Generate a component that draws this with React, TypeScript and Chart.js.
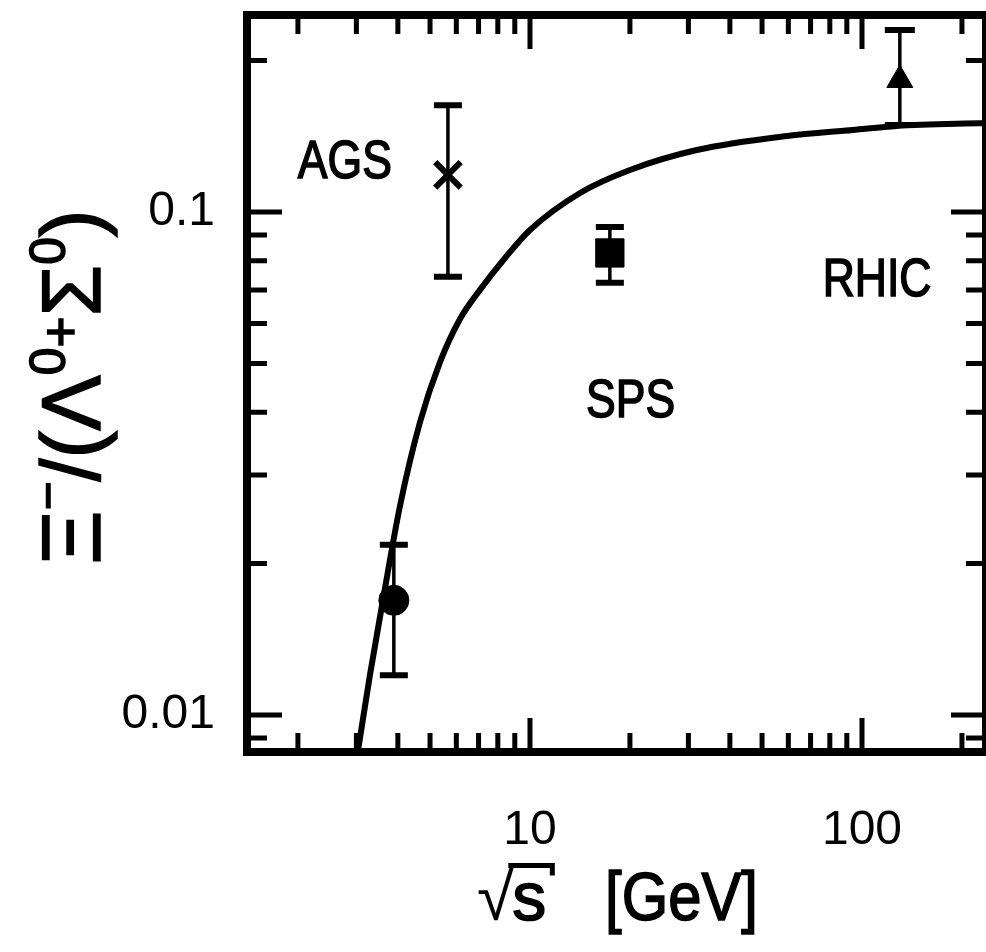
import React, { useEffect, useRef } from "react";
import { Chart, registerables } from "chart.js";

Chart.register(...registerables);

// ---- Data ----
// model curve: sqrt(s) [GeV] vs ratio
const curveX = [3.03, 3.296, 3.607, 4.059, 4.665, 5.357, 6.155, 7.07, 8.41, 10.0, 14.15, 20.0, 31.8, 59.4, 94.0, 127, 236];
const curveY = [0.00844, 0.01201, 0.01693, 0.02603, 0.03824, 0.0503, 0.06127, 0.07, 0.081, 0.0921, 0.1091, 0.1212, 0.1328, 0.1416, 0.1456, 0.1483, 0.1503];

// measured points: AGS (cross), low energy (circle), SPS (square), RHIC (triangle)
const pointNames = ["AGS", "low energy", "SPS", "RHIC"];
const pointX = [5.66, 3.89, 17.4, 130];
const pointY = [0.1185, 0.0169, 0.0829, 0.183];
const errLow = [0.0743, 0.012, 0.0723, 0.149];
const errHigh = [0.163, 0.0218, 0.0934, 0.23];

// text labels
const annotText = ["AGS", "SPS", "RHIC"];
const annotX = [2.77, 20.1, 111];
const annotY = [0.117, 0.0391, 0.0681];

// axes
const xMin = 1.405;
const xMax = 236.3;
const yMin = 0.00844;
const yMax = 0.2464;
const xMajor = [10, 100];
const xMajorLabels = ["10", "100"];
const xMinor = [2, 3, 4, 5, 6, 7, 8, 9, 20, 30, 40, 50, 60, 70, 80, 90, 200];
const yMajor = [0.01, 0.1];
const yMajorLabels = ["0.01", "0.1"];
const yMinor = [0.009, 0.02, 0.03, 0.04, 0.05, 0.06, 0.07, 0.08, 0.09, 0.2];

const FONT = '"Liberation Sans", Arial, sans-serif';

function condensedText(ctx: any, text: string, x: number, y: number, sx: number, align: string, stroke: number) {
  ctx.save();
  ctx.translate(x, y);
  ctx.scale(sx, 1);
  ctx.textAlign = align;
  ctx.fillText(text, 0, 0);
  if (stroke > 0) {
    ctx.lineWidth = stroke;
    ctx.strokeText(text, 0, 0);
  }
  ctx.restore();
}

const drawPlugin = {
  id: "physicsDecor",
  beforeDatasetsDraw(chart: any) {
    const ctx = chart.ctx;
    const xs = chart.scales.x;
    const ys = chart.scales.y;
    ctx.save();
    ctx.strokeStyle = "#000";
    ctx.lineCap = "butt";
    for (let i = 0; i < pointX.length; i++) {
      const px = xs.getPixelForValue(pointX[i]);
      const lo = ys.getPixelForValue(errLow[i]);
      const hi = ys.getPixelForValue(errHigh[i]);
      ctx.lineWidth = 3.5;
      ctx.beginPath();
      ctx.moveTo(px, lo);
      ctx.lineTo(px, hi);
      ctx.stroke();
      ctx.lineWidth = 6;
      const cw = i === 3 ? 15 : 14;
      ctx.beginPath();
      ctx.moveTo(px - cw, lo);
      ctx.lineTo(px + cw, lo);
      ctx.moveTo(px - cw, hi);
      ctx.lineTo(px + cw, hi);
      ctx.stroke();
    }
    ctx.restore();
  },
  afterDatasetsDraw(chart: any) {
    const ctx = chart.ctx;
    const xs = chart.scales.x;
    const ys = chart.scales.y;
    const { left, right, top, bottom } = chart.chartArea;
    ctx.save();
    ctx.strokeStyle = "#000";
    ctx.fillStyle = "#000";
    // frame
    ctx.lineWidth = 8;
    ctx.strokeRect(left, top, right - left, bottom - top);
    // inward ticks
    ctx.lineWidth = 5;
    const xt = (vals: number[], len: number) => {
      for (const v of vals) {
        const p = xs.getPixelForValue(v);
        ctx.beginPath();
        ctx.moveTo(p, bottom);
        ctx.lineTo(p, bottom - len);
        ctx.moveTo(p, top);
        ctx.lineTo(p, top + len);
        ctx.stroke();
      }
    };
    const yt = (vals: number[], len: number) => {
      for (const v of vals) {
        const p = ys.getPixelForValue(v);
        ctx.beginPath();
        ctx.moveTo(left, p);
        ctx.lineTo(left + len, p);
        ctx.moveTo(right, p);
        ctx.lineTo(right - len, p);
        ctx.stroke();
      }
    };
    xt(xMinor, 19);
    xt(xMajor, 34);
    yt(yMinor, 20);
    yt(yMajor, 35);

    // annotations
    ctx.font = `53px ${FONT}`;
    ctx.textBaseline = "alphabetic";
    for (let i = 0; i < annotText.length; i++) {
      const px = xs.getPixelForValue(annotX[i]);
      const py = ys.getPixelForValue(annotY[i]);
      condensedText(ctx, annotText[i], px, py, 0.84, "center", 1.6);
    }

    // x-axis title: sqrt(s) [GeV]
    const tSize = 68;
    ctx.font = `${tSize}px ${FONT}`;
    const bx = left + 230;
    const by = bottom + 168;
    const rad = "\u221A";
    const wRad = ctx.measureText(rad).width;
    condensedText(ctx, rad, bx, by, 1, "left", 0);
    const wS = ctx.measureText("s").width;
    condensedText(ctx, "s", bx + wRad - 2, by, 1, "left", 1.6);
    condensedText(ctx, "[GeV]", bx + 128, by, 0.88, "left", 1.6);
    // overbar of the radical
    ctx.lineWidth = 5;
    const barY = by - tSize * 0.8;
    ctx.beginPath();
    ctx.moveTo(bx + wRad - 6, barY);
    ctx.lineTo(bx + wRad + wS + 4, barY);
    ctx.lineTo(bx + wRad + wS + 4, barY + 10);
    ctx.stroke();

    // y-axis title: Xi-/(Lambda0+Sigma0)
    const S = 83;
    const segs: [string, number, number][] = [
      ["\u039E", S, 0],
      ["\u2212", S * 0.6, S * 0.42],
      ["/", S, 0],
      ["(", S, 0],
      ["\u039B", S, 0],
      ["0", S * 0.6, S * 0.42],
      ["+", S * 0.65, S * 0.25],
      ["\u03A3", S, 0],
      ["0", S * 0.6, S * 0.42],
      [")", S, 0],
    ];
    let total = 0;
    const widths: number[] = [];
    for (const [t, sz] of segs) {
      ctx.font = `${sz}px ${FONT}`;
      const w = ctx.measureText(t).width;
      widths.push(w);
      total += w;
    }
    ctx.translate(left - 147, 387);
    ctx.rotate(-Math.PI / 2);
    let cx = -total / 2;
    ctx.lineWidth = 1.5;
    segs.forEach(([t, sz, rise], i) => {
      ctx.font = `${sz}px ${FONT}`;
      ctx.textAlign = "left";
      ctx.fillText(t, cx, -rise);
      ctx.strokeText(t, cx, -rise);
      cx += widths[i];
    });
    ctx.restore();
  },
};

const zeroPad = (s: any) => {
  s.paddingTop = 0;
  s.paddingBottom = 0;
  s.paddingLeft = 0;
  s.paddingRight = 0;
};

export default function App() {
  const ref = useRef<HTMLCanvasElement>(null);
  useEffect(() => {
    if (!ref.current) return;
    const chart = new Chart(ref.current, {
      type: "scatter",
      data: {
        datasets: [
          {
            type: "line",
            label: "model",
            data: curveX.map((x, i) => ({ x, y: curveY[i] })),
            borderColor: "#000",
            borderWidth: 6,
            pointRadius: 0,
            cubicInterpolationMode: "monotone",
            fill: false,
          } as any,
          {
            label: pointNames[0],
            data: [{ x: pointX[0], y: pointY[0] }],
            pointStyle: "crossRot",
            pointRadius: 18,
            borderWidth: 6,
            borderColor: "#000",
            backgroundColor: "#000",
          },
          {
            label: pointNames[1],
            data: [{ x: pointX[1], y: pointY[1] }],
            pointStyle: "circle",
            pointRadius: 15,
            borderWidth: 1,
            borderColor: "#000",
            backgroundColor: "#000",
          },
          {
            label: pointNames[2],
            data: [{ x: pointX[2], y: pointY[2] }],
            pointStyle: "rect",
            pointRadius: 20,
            borderWidth: 1,
            borderColor: "#000",
            backgroundColor: "#000",
          },
          {
            label: pointNames[3],
            data: [{ x: pointX[3], y: pointY[3] }],
            pointStyle: "triangle",
            pointRadius: 15,
            borderWidth: 1,
            borderColor: "#000",
            backgroundColor: "#000",
          },
        ],
      },
      options: {
        animation: false,
        responsive: true,
        maintainAspectRatio: false,
        layout: { autoPadding: false, padding: { left: 0, top: 15, right: 0, bottom: 0 } },
        plugins: {
          legend: { display: false },
          tooltip: { enabled: false },
        },
        scales: {
          x: {
            type: "logarithmic",
            min: xMin,
            max: xMax,
            grid: { display: false, drawTicks: false },
            border: { display: false },
            afterBuildTicks: (s: any) => {
              s.ticks = xMajor.map((v) => ({ value: v }));
            },
            afterFit: (s: any) => {
              s.height = 200;
              zeroPad(s);
            },
            ticks: {
              autoSkip: false,
              maxRotation: 0,
              color: "#000",
              padding: 50,
              font: { family: FONT, size: 48 },
              callback: (v: any) => xMajorLabels[xMajor.indexOf(Number(v))] ?? "",
            },
          },
          y: {
            type: "logarithmic",
            min: yMin,
            max: yMax,
            grid: { display: false, drawTicks: false },
            border: { display: false },
            afterBuildTicks: (s: any) => {
              s.ticks = yMajor.map((v) => ({ value: v }));
            },
            afterFit: (s: any) => {
              s.width = 247;
              zeroPad(s);
            },
            ticks: {
              autoSkip: false,
              color: "#000",
              padding: 32,
              font: { family: FONT, size: 48 },
              callback: (v: any) => yMajorLabels[yMajor.indexOf(Number(v))] ?? "",
            },
          },
        },
      },
      plugins: [drawPlugin],
    });
    return () => chart.destroy();
  }, []);
  return (
    <div style={{ position: "fixed", left: 0, top: 0, width: 986, height: 952, background: "#fff" }}>
      <canvas ref={ref} />
    </div>
  );
}
